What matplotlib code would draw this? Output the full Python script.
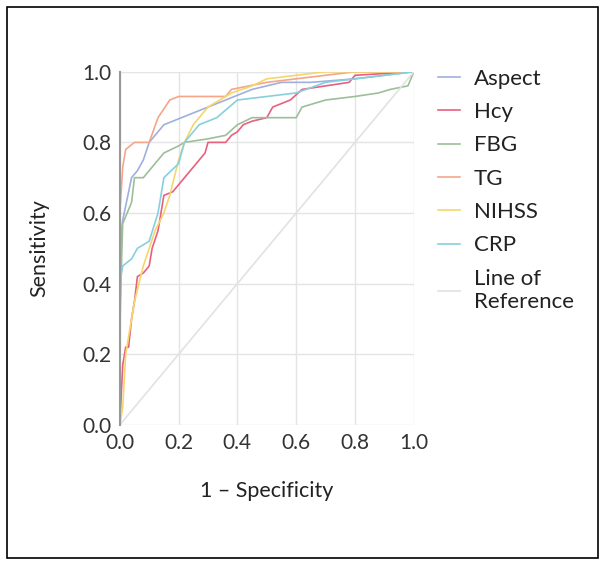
import matplotlib
matplotlib.use("Agg")
import matplotlib.pyplot as plt
from matplotlib.patches import Rectangle

plt.rcParams['font.family'] = ['Lato', 'DejaVu Sans']

# ROC points: (1 - specificity, sensitivity)
aspect_fpr = [0.0, 0.0, 0.005, 0.01, 0.02, 0.03, 0.04, 0.06, 0.08, 0.1, 0.12, 0.15, 0.3, 0.45, 0.55, 0.65, 0.8, 0.9, 1.0]
aspect_tpr = [0.0, 0.2, 0.55, 0.58, 0.62, 0.66, 0.7, 0.72, 0.75, 0.8, 0.82, 0.85, 0.9, 0.95, 0.97, 0.97, 0.98, 0.99, 1.0]

hcy_fpr = [0.0, 0.01, 0.02, 0.03, 0.04, 0.05, 0.06, 0.08, 0.1, 0.11, 0.13, 0.14, 0.15, 0.18, 0.2, 0.22, 0.25, 0.27, 0.29, 0.3,
           0.36, 0.38, 0.4, 0.42, 0.45, 0.5, 0.52, 0.58, 0.62, 0.7, 0.78, 0.8, 1.0]
hcy_tpr = [0.0, 0.17, 0.22, 0.22, 0.3, 0.35, 0.42, 0.43, 0.45, 0.5, 0.55, 0.6, 0.65, 0.66, 0.68, 0.7, 0.73, 0.75, 0.77, 0.8,
           0.8, 0.82, 0.83, 0.85, 0.86, 0.87, 0.9, 0.92, 0.95, 0.96, 0.97, 0.99, 1.0]

fbg_fpr = [0.0, 0.0, 0.01, 0.04, 0.05, 0.08, 0.1, 0.15, 0.2, 0.22, 0.3, 0.36, 0.4, 0.45, 0.6, 0.62, 0.7, 0.8, 0.88, 0.92, 0.98, 1.0]
fbg_tpr = [0.0, 0.3, 0.57, 0.63, 0.7, 0.7, 0.72, 0.77, 0.79, 0.8, 0.81, 0.82, 0.85, 0.87, 0.87, 0.9, 0.92, 0.93, 0.94, 0.95, 0.96, 1.0]

tg_fpr = [0.0, 0.0, 0.01, 0.02, 0.05, 0.1, 0.13, 0.17, 0.2, 0.36, 0.38, 0.5, 0.6, 0.8, 1.0]
tg_tpr = [0.0, 0.6, 0.73, 0.78, 0.8, 0.8, 0.87, 0.92, 0.93, 0.93, 0.95, 0.97, 0.98, 1.0, 1.0]

nihss_fpr = [0.0, 0.01, 0.02, 0.05, 0.08, 0.12, 0.15, 0.17, 0.2, 0.22, 0.25, 0.3, 0.38, 0.45, 0.5, 0.6, 0.7, 1.0]
nihss_tpr = [0.0, 0.05, 0.2, 0.35, 0.45, 0.55, 0.6, 0.65, 0.75, 0.8, 0.85, 0.9, 0.94, 0.96, 0.98, 0.99, 1.0, 1.0]

crp_fpr = [0.0, 0.0, 0.01, 0.04, 0.06, 0.1, 0.13, 0.15, 0.2, 0.22, 0.27, 0.33, 0.4, 0.5, 0.6, 0.7, 0.8, 1.0]
crp_tpr = [0.0, 0.4, 0.45, 0.47, 0.5, 0.52, 0.6, 0.7, 0.74, 0.8, 0.85, 0.87, 0.92, 0.93, 0.94, 0.97, 0.98, 1.0]

ref_x = [0.0, 1.0]
ref_y = [0.0, 1.0]

labels = ["Aspect", "Hcy", "FBG", "TG", "NIHSS", "CRP", "Line of\nReference"]
colors = ["#9fb0dd", "#e8607f", "#9cbf9a", "#f5a58a", "#f5d66a", "#86d0de", "#e2e2e2"]
ticks = [0.0, 0.2, 0.4, 0.6, 0.8, 1.0]

fig = plt.figure(figsize=(6.05, 5.65), dpi=100)
ax = fig.add_axes([0.198, 0.248, 0.486, 0.625])

series = [(aspect_fpr, aspect_tpr), (hcy_fpr, hcy_tpr), (fbg_fpr, fbg_tpr),
          (tg_fpr, tg_tpr), (nihss_fpr, nihss_tpr), (crp_fpr, crp_tpr), (ref_x, ref_y)]
for (xs, ys), lab, col in zip(series, labels, colors):
    ax.plot(xs, ys, color=col, lw=1.2, label=lab)

ax.set_xlim(0, 1)
ax.set_ylim(0, 1)
ax.set_xticks(ticks)
ax.set_yticks(ticks)
ax.set_xticklabels([f"{t:.1f}" for t in ticks])
ax.set_yticklabels([f"{t:.1f}" for t in ticks])
ax.grid(True, color="#e4e4e4", lw=1)
ax.set_axisbelow(True)
for side in ["top", "right", "bottom"]:
    ax.spines[side].set_visible(False)
ax.spines["left"].set_color("#999999")
ax.spines["left"].set_linewidth(1.5)
ax.tick_params(length=0, labelsize=15, colors="#333333", pad=6)
ax.set_xlabel("1 – Specificity", fontsize=15.5, color="#222222", labelpad=20)
ax.set_ylabel("Sensitivity", fontsize=15.5, color="#222222", labelpad=24)

ax.legend(loc="upper left", bbox_to_anchor=(1.015, 1.065), frameon=False, fontsize=16,
          handlelength=1.0, handletextpad=0.6, labelspacing=0.6, labelcolor="#222222")

fig.patches.append(Rectangle((0.012, 0.012), 0.976, 0.976, transform=fig.transFigure,
                             fill=False, edgecolor="black", lw=1.2))

fig.savefig("out.png", dpi=100, facecolor="white")
